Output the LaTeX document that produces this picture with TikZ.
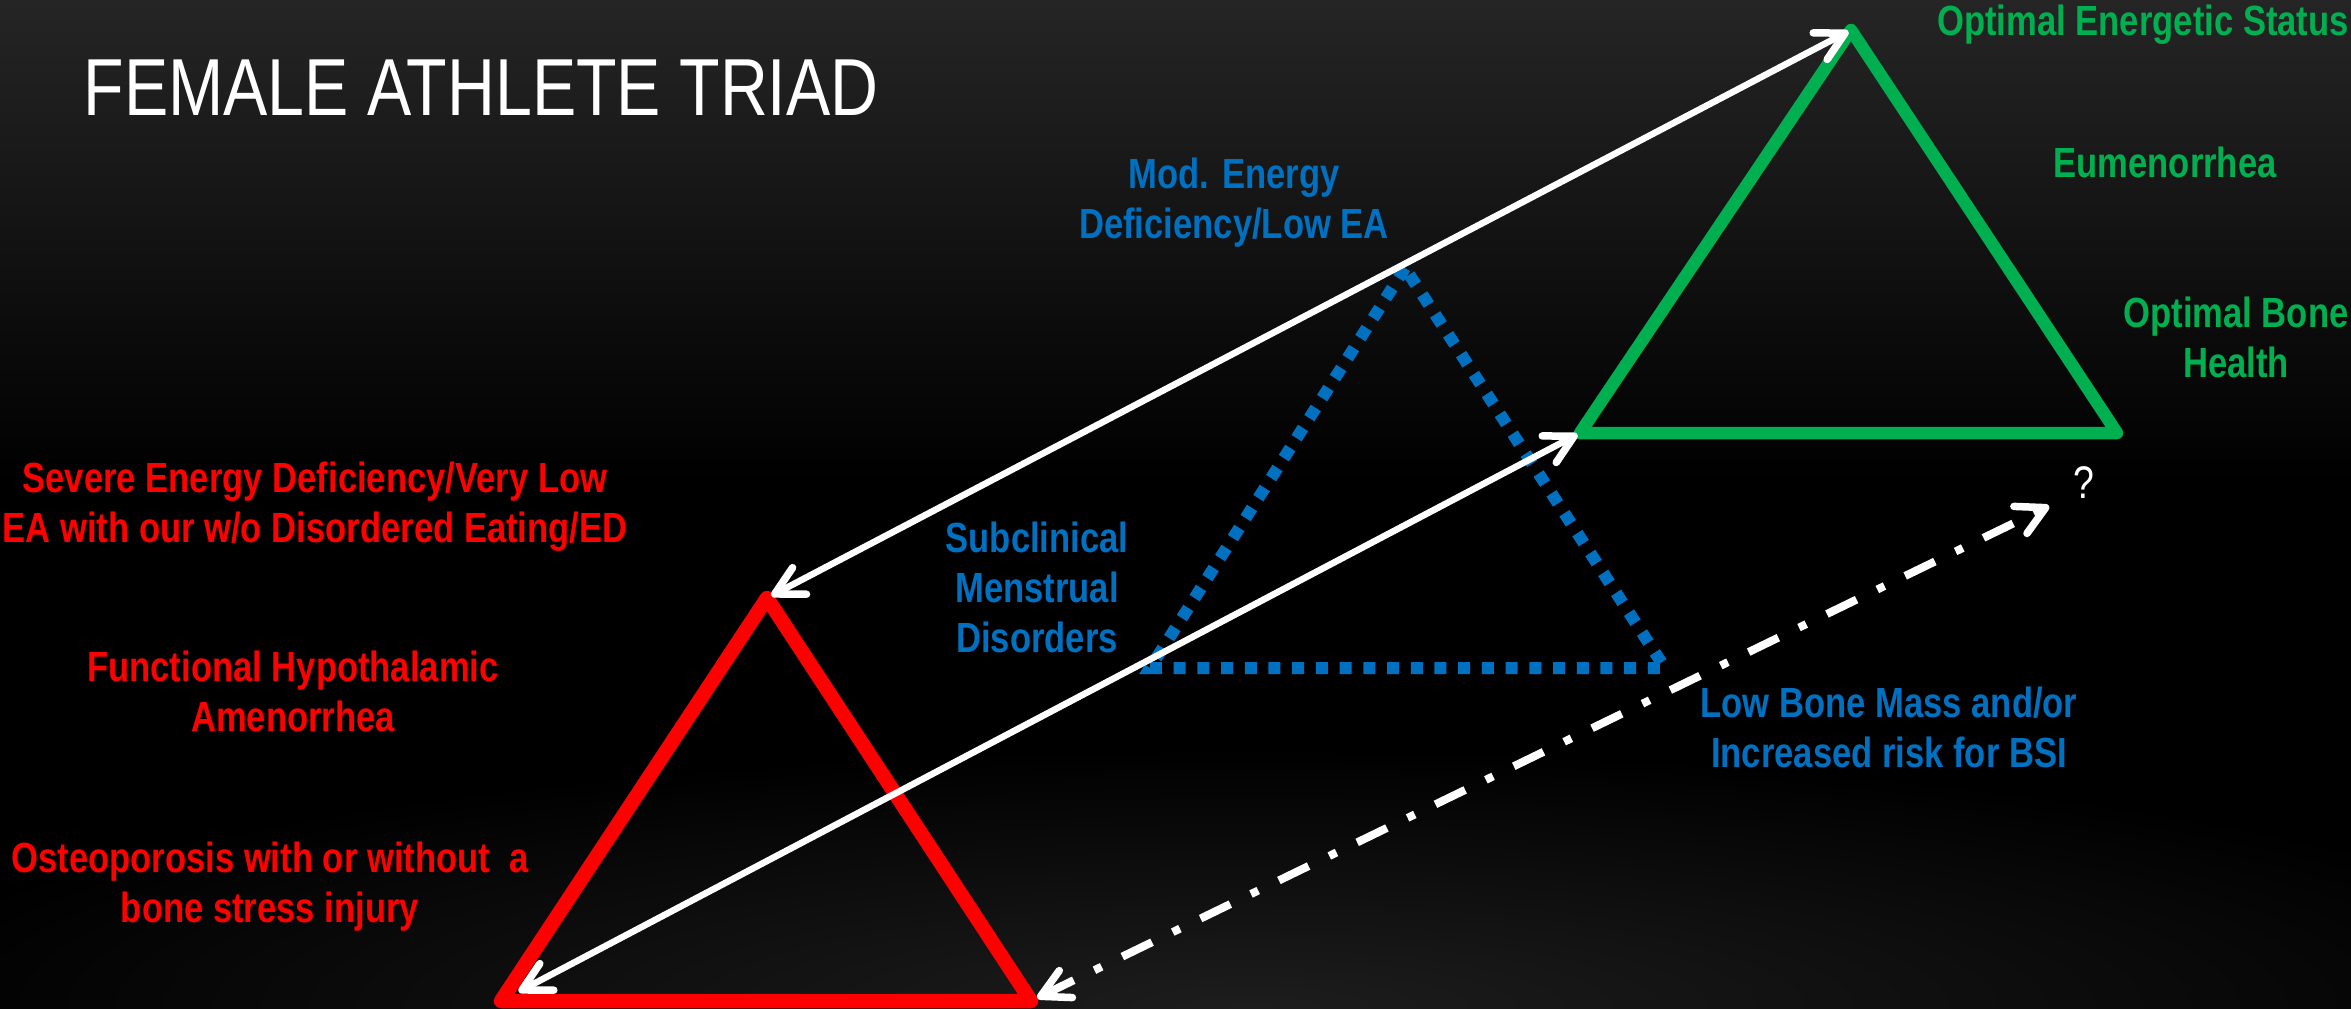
\documentclass[tikz,border=0pt]{standalone}
\usepackage{fontspec}
\usetikzlibrary{arrows.meta}
\newfontfamily\labfont{Liberation Sans}[FakeStretch=0.82]
\definecolor{tgreen}{HTML}{00B050}
\definecolor{tred}{HTML}{FF0000}
\definecolor{tblue}{HTML}{0070C0}
\definecolor{bgtop}{HTML}{252525}
\definecolor{bgglow}{HTML}{1D1D1D}
\tikzset{
  mybarb/.tip={Straight Barb[length=0.28cm, width=0.30cm, line width=0.075cm, round]},
  lab/.style={font=\labfont\bfseries\fontsize{12pt}{14.2pt}\selectfont, align=center, anchor=base, inner sep=0pt},
  glab/.style={lab, text=tgreen},
  rlab/.style={lab, text=tred},
  blab/.style={lab, text=tblue},
  tri/.style={line join=round, line cap=round},
  warrow/.style={draw=white, line width=0.065cm, mybarb-mybarb},
  dasharrow/.style={draw=white, line width=0.08cm, dash pattern=on 0.33cm off 0.23cm on 0.08cm off 0.23cm, mybarb-mybarb},
}
\begin{document}
\begin{tikzpicture}[x=0.01cm, y=-0.01cm]
\useasboundingbox (0,0) rectangle (2351,1008);
% background
\fill[black] (0,0) rectangle (2351,1008);
\shade[top color=bgtop, bottom color=black] (0,0) rectangle (2351,480);
\begin{scope}
  \clip (0,0) rectangle (2351,1008);
  \shade[inner color=bgglow, outer color=black] (1250,1008) ellipse (1400 and 260);
\end{scope}

% title
\node[font=\labfont\fontsize{23pt}{27pt}\selectfont, text=white, anchor=base west, inner sep=0pt] (title) at (83,115) {FEMALE ATHLETE TRIAD};

% triangle vertices
\coordinate (g1) at (1851,30);
\coordinate (g2) at (1580,433);
\coordinate (g3) at (2117,433);
\coordinate (r1) at (767,598);
\coordinate (r2) at (501,1001);
\coordinate (r3) at (1031,1001);
\coordinate (b1) at (1405,268);
\coordinate (b2) at (1150,668);
\coordinate (b3) at (1665,668);
\coordinate (qend) at (2049,506);

% triangles
\draw[tri, tgreen, line width=0.125cm] (g1) -- (g2) -- (g3) -- cycle;
\draw[tri, tred, line width=0.145cm] (r1) -- (r2) -- (r3) -- cycle;
\draw[tblue, line width=0.12cm, dash pattern=on 0.12cm off 0.117cm] (b1) -- (b2) -- (b3) -- cycle;

% arrows
\draw[warrow, shorten <=0.05cm, shorten >=0.03cm] (r1) -- (g1);
\draw[warrow, shorten <=0.2cm, shorten >=0.03cm] (r2) -- (g2);
\draw[dasharrow, shorten <=0.07cm] (r3) -- (qend);

% green labels
\node[glab] (oes) at (2143,35) {Optimal Energetic Status};
\node[glab] (eum) at (2165,177) {Eumenorrhea};
\node[glab] (obh) at (2236,377) {Optimal Bone\\Health};

% blue labels
\node[blab] (mod) at (1234,238) {Mod. Energy\\Deficiency/Low EA};
\node[blab] (sub) at (1037,652) {Subclinical\\Menstrual\\Disorders};
\node[blab] (lbm) at (1889,767) {Low Bone Mass and/or\\Increased risk for BSI};

% red labels
\node[rlab] (sev) at (315,542) {Severe Energy Deficiency/Very Low\\EA with our w/o Disordered Eating/ED};
\node[rlab] (fha) at (293,731) {Functional Hypothalamic\\Amenorrhea};
\node[rlab] (ost) at (270,922) {Osteoporosis with or without~~a\\bone stress injury};

% question mark
\node[font=\labfont\fontsize{13pt}{15pt}\selectfont, text=white, anchor=base, inner sep=0pt] (qm) at (2084,498) {?};
\end{tikzpicture}
\end{document}
